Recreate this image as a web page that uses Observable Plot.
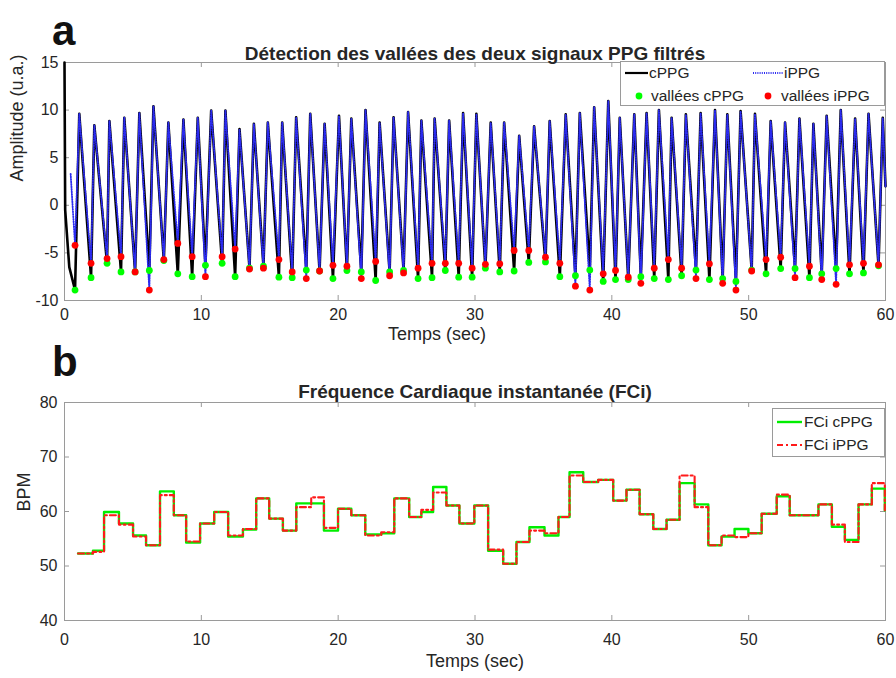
<!DOCTYPE html>
<html><head><meta charset="utf-8">
<script src="https://cdn.jsdelivr.net/npm/d3@7"></script>
<script src="https://cdn.jsdelivr.net/npm/@observablehq/plot@0.6"></script>
<style>
body{margin:0;background:#fff;}
#root{position:relative;width:896px;height:678px;overflow:hidden;font-family:"Liberation Sans",Arial,sans-serif;color:#262626;}
.big{font-weight:bold;font-size:42px;color:#111;line-height:1;}
</style></head><body><div id="root"></div>
<script>
// ---------- tick labels ----------
const xTicks = [0, 10, 20, 30, 40, 50, 60];
const yTicksA = [-10, -5, 0, 5, 10, 15];
const yTicksB = [40, 50, 60, 70, 80];

// ---------- panel a : PPG signals ----------
const cStartT = [0, 0.05, 0.35];
const cStartV = [15, -0.5, -6.5];
const iStartT = [0.45];
const iStartV = [3.3];
const valleyT = [0.77, 1.94, 3.11, 4.13, 5.16, 6.20, 7.26, 8.28, 9.33, 10.30, 11.52, 12.47, 13.52, 14.54,
  15.67, 16.64, 17.67, 18.64, 19.62, 20.64, 21.69, 22.74, 23.76, 24.78, 25.84, 26.86, 27.83, 28.81, 29.79,
  30.76, 31.81, 32.86, 33.93, 35.15, 36.20, 37.34, 38.39, 39.37, 40.27, 41.20, 42.12, 43.10, 44.13,
  45.10, 46.15, 47.13, 48.10, 49.07, 50.22, 51.27, 52.34, 53.39, 54.44, 55.34, 56.39, 57.37, 58.39, 59.49];
const valleyC = [-8.9, -7.6, -6.1, -7.0, -7.0, -6.85, -5.8, -7.2, -7.5, -6.3, -6.1, -7.5, -6.6, -6.4,
  -7.55, -7.6, -6.8, -6.9, -7.7, -6.85, -7.0, -7.9, -7.0, -6.85, -7.7, -7.6, -6.85, -7.55, -7.55,
  -6.6, -7.0, -6.9, -6.0, -5.95, -7.5, -7.4, -6.8, -8.0, -7.8, -7.8, -7.5, -7.7, -7.8,
  -7.4, -6.8, -7.8, -7.7, -8.0, -6.8, -7.2, -6.65, -6.65, -7.6, -7.2, -6.65, -7.2, -7.1, -6.35];
const valleyI = [-4.2, -6.1, -5.6, -5.4, -7.0, -8.9, -5.7, -4.0, -5.4, -7.5, -5.4, -4.6, -6.7, -6.6,
  -5.7, -7.0, -7.7, -6.9, -6.3, -6.4, -7.7, -5.9, -7.4, -7.1, -6.6, -6.1, -6.1, -6.1, -6.6,
  -6.2, -6.15, -4.75, -4.75, -5.45, -6.1, -8.5, -8.9, -7.2, -6.85, -7.55, -8.2, -6.6, -5.7,
  -6.6, -7.7, -6.15, -8.2, -8.9, -6.9, -5.7, -5.45, -7.6, -6.4, -7.8, -8.3, -6.25, -6.1, -6.25];
const peakT = [1.08, 2.18, 3.28, 4.37, 5.47, 6.50, 7.59, 8.69, 9.74, 10.72, 11.76, 12.79, 13.84, 14.86,
  15.91, 16.93, 17.96, 19.01, 20.06, 20.96, 22.00, 23.03, 24.05, 25.11, 26.08, 27.05, 28.11, 29.13,
  30.10, 31.15, 32.13, 33.23, 34.32, 35.46, 36.63, 37.66, 38.71, 39.74, 40.58, 41.64, 42.54, 43.44, 44.37,
  45.41, 46.49, 47.54, 48.44, 49.41, 50.46, 51.61, 52.66, 53.71, 54.73, 55.70, 56.73, 57.78, 58.76, 59.80];
const peakV = [9.6, 8.4, 8.85, 9.2, 9.7, 10.4, 8.7, 9.0, 9.2, 9.95, 9.95, 8.0, 8.55, 8.7,
  8.7, 9.25, 9.6, 8.55, 9.4, 9.1, 10.0, 8.7, 9.25, 9.8, 8.9, 9.1, 8.9, 9.7,
  9.6, 8.7, 8.7, 7.3, 8.3, 8.85, 9.55, 9.7, 10.3, 10.95, 9.2, 9.55, 9.7, 10.0, 9.2,
  9.55, 9.7, 10.0, 9.55, 9.9, 9.6, 8.85, 8.7, 9.1, 8.55, 9.4, 10.0, 9.1, 9.6, 9.2];
const endT = [60];
const endV = [2];

// ---------- panel b : instantaneous heart rate ----------
const stepT = [0.99, 2.08, 2.89, 3.98, 5.01, 5.96, 6.98, 7.99, 8.89, 9.91, 10.94, 11.96, 13.04, 14.01, 14.96,
  15.96, 16.94, 18.03, 18.96, 19.99, 20.96, 21.98, 23.15, 24.1, 25.19, 26.08, 26.94, 27.91, 28.86, 29.95,
  30.96, 32.06, 33.03, 33.98, 35.08, 36.1, 36.91, 37.91, 39.0, 40.1, 41.07, 42.03, 43.03, 44.0, 44.95,
  46.05, 47.05, 48.02, 48.97, 49.98, 50.95, 52.05, 53.0, 54.0, 55.1, 56.08, 57.03, 58.03, 59.0, 59.95];
const hrC = [52.3, 52.8, 59.9, 57.8, 55.6, 53.8, 63.7, 59.3, 54.3, 57.8, 59.9, 55.4, 56.7, 62.4, 58.7,
  56.5, 61.5, 61.5, 56.5, 60.5, 59.3, 55.8, 56.0, 62.4, 59.0, 59.9, 64.5, 61.1, 57.8, 61.1,
  52.8, 50.4, 54.4, 57.1, 55.6, 59.0, 67.2, 65.4, 65.8, 62.0, 64.0, 59.5, 56.8, 58.5, 65.2,
  61.3, 53.8, 55.4, 56.8, 56.0, 59.6, 62.8, 59.3, 59.3, 61.3, 57.2, 54.8, 61.3, 64.2, 60.2];
const hrI = [52.3, 52.6, 59.3, 57.6, 55.4, 53.8, 63.0, 59.3, 54.5, 57.8, 59.9, 55.6, 56.8, 62.4, 58.7,
  56.5, 60.8, 62.6, 57.0, 60.5, 59.3, 55.6, 56.2, 62.4, 59.0, 60.3, 63.5, 61.1, 57.8, 61.1,
  53.0, 50.4, 54.4, 56.5, 56.0, 59.0, 66.6, 65.4, 65.8, 62.0, 64.0, 59.5, 56.8, 58.5, 66.6,
  60.8, 53.8, 55.6, 55.3, 56.0, 59.6, 63.1, 59.3, 59.3, 61.3, 57.6, 54.4, 61.3, 65.2, 60.2];

// ---------- build tables ----------
function ppgSeries(sT, sV, vals) {
  const pts = sT.map((t, i) => ({t, v: sV[i]}));
  valleyT.forEach((t, i) => { pts.push({t, v: vals[i]}); pts.push({t: peakT[i], v: peakV[i]}); });
  endT.forEach((t, i) => pts.push({t, v: endV[i]}));
  return pts;
}
const cPPG = ppgSeries(cStartT, cStartV, valleyC);
const iPPG = ppgSeries(iStartT, iStartV, valleyI);
const valleys = valleyT.map((t, i) => ({t, c: valleyC[i], i: valleyI[i]}));
const hr = stepT.map((t, i) => ({t, c: hrC[i], i: hrI[i]}));

const FONT = '"Liberation Sans", Arial, sans-serif';
const FRAME = "#9a9a9a";
const TXT = "#262626";
const BLUE = "#2b2bf0";
const W = 896, ML = 64, MR = 11;
const PW = W - ML - MR;
const fmt = d => String(d);
const TICKFS = 16, LABFS = 18, TITFS = 19;

function boxTicks(yTicks, plotH) {
  return [
    Plot.tickX(xTicks, {x: d => d, stroke: FRAME, insetTop: plotH - 5}),
    Plot.tickX(xTicks, {x: d => d, stroke: FRAME, insetBottom: plotH - 5}),
    Plot.tickY(yTicks, {y: d => d, stroke: FRAME, insetRight: PW - 5}),
    Plot.tickY(yTicks, {y: d => d, stroke: FRAME, insetLeft: PW - 5}),
    Plot.frame({stroke: FRAME})
  ];
}

// ---------- panel a ----------
const HA = 340, MTA = 62, MBA = 40;
const chartA = Plot.plot({
  width: W, height: HA, marginLeft: ML, marginRight: MR, marginTop: MTA, marginBottom: MBA,
  style: {fontFamily: FONT, fontSize: TICKFS + "px", color: TXT, background: "transparent", overflow: "visible"},
  x: {domain: [0, 60]},
  y: {domain: [-10, 15]},
  marks: [
    ...boxTicks(yTicksA, HA - MTA - MBA),
    Plot.line(cPPG, {x: "t", y: "v", stroke: "#000", strokeWidth: 2.6}),
    Plot.line(iPPG, {x: "t", y: "v", stroke: BLUE, strokeWidth: 1.8, strokeDasharray: "1,1.5"}),
    Plot.dot(valleys, {x: "t", y: "c", fill: "#00ff00", r: 3.4}),
    Plot.dot(valleys, {x: "t", y: "i", fill: "#ff0000", r: 3.4}),
    Plot.axisX({ticks: xTicks, tickSize: 0, tickPadding: 8, tickFormat: fmt, label: null, fontSize: TICKFS}),
    Plot.axisY({ticks: yTicksA, tickSize: 0, tickPadding: 6, tickFormat: fmt, label: null, fontSize: TICKFS}),
    Plot.text(["Temps (sec)"], {text: d => d, frameAnchor: "bottom", dy: 39, dx: -38, fontSize: LABFS}),
    Plot.text(["Amplitude (u.a.)"], {text: d => d, frameAnchor: "left", dx: -47, rotate: -90, fontSize: LABFS}),
    Plot.text(["Détection des vallées des deux signaux PPG filtrés"], {text: d => d, frameAnchor: "top", dy: -16, fontSize: TITFS, fontWeight: "bold"})
  ]
});

// ---------- panel b ----------
const HB = 338, MTB = 62, MBB = 58;
const chartB = Plot.plot({
  width: W, height: HB, marginLeft: ML, marginRight: MR, marginTop: MTB, marginBottom: MBB,
  style: {fontFamily: FONT, fontSize: TICKFS + "px", color: TXT, background: "transparent", overflow: "visible"},
  x: {domain: [0, 60]},
  y: {domain: [40, 80]},
  marks: [
    ...boxTicks(yTicksB, HB - MTB - MBB),
    Plot.line(hr, {x: "t", y: "c", stroke: "#00ee00", strokeWidth: 2.4, curve: "step-after"}),
    Plot.line(hr, {x: "t", y: "i", stroke: "#ff1a1a", strokeWidth: 2.1, curve: "step-after", strokeDasharray: "6,3,2,3"}),
    Plot.axisX({ticks: xTicks, tickSize: 0, tickPadding: 13, tickFormat: fmt, label: null, fontSize: TICKFS}),
    Plot.axisY({ticks: yTicksB, tickSize: 0, tickPadding: 7, tickFormat: fmt, label: null, fontSize: TICKFS}),
    Plot.text(["Temps (sec)"], {text: d => d, frameAnchor: "bottom", dy: 46, fontSize: LABFS}),
    Plot.text(["BPM"], {text: d => d, frameAnchor: "left", dx: -40, rotate: -90, fontSize: LABFS}),
    Plot.text(["Fréquence Cardiaque instantanée (FCi)"], {text: d => d, frameAnchor: "top", dy: -18, fontSize: TITFS, fontWeight: "bold"})
  ]
});

const root = document.getElementById("root");
function place(el, left, top) { el.style.position = "absolute"; el.style.left = left + "px"; el.style.top = top + "px"; root.appendChild(el); return el; }
place(chartA, 0, 0);
place(chartB, 0, 340);

// panel letters
const la = document.createElement("div"); la.className = "big"; la.textContent = "a"; place(la, 52, 10);
const lb = document.createElement("div"); lb.className = "big"; lb.textContent = "b"; place(lb, 52, 341);

// ---------- legends (HTML overlay svg) ----------
function legend(left, top, w, h, items) {
  const svg = d3.create("svg").attr("width", w).attr("height", h)
    .style("font-family", FONT).style("font-size", "15.5px");
  svg.append("rect").attr("x", 0.5).attr("y", 0.5).attr("width", w - 1).attr("height", h - 1)
    .attr("fill", "#fff").attr("stroke", FRAME);
  for (const it of items) {
    if (it.kind === "line") {
      svg.append("line").attr("x1", it.x0).attr("x2", it.x1).attr("y1", it.y).attr("y2", it.y)
        .attr("stroke", it.color).attr("stroke-width", it.width).attr("stroke-dasharray", it.dash || null);
    } else {
      svg.append("circle").attr("cx", it.x0).attr("cy", it.y).attr("r", 3.4).attr("fill", it.color);
    }
    svg.append("text").attr("x", it.tx).attr("y", it.y).attr("dy", "0.35em").attr("fill", TXT).text(it.label);
  }
  place(svg.node(), left, top);
}
legend(620, 61, 265, 45, [
  {kind: "line", x0: 5, x1: 28, y: 12, color: "#000", width: 2.2, tx: 29, label: "cPPG"},
  {kind: "line", x0: 133, x1: 163, y: 12, color: BLUE, width: 2, dash: "1,1.2", tx: 164, label: "iPPG"},
  {kind: "dot", x0: 19, y: 35, color: "#00ff00", tx: 31, label: "vallées cPPG"},
  {kind: "dot", x0: 148, y: 35, color: "#ff0000", tx: 161, label: "vallées iPPG"}
]);
legend(772, 408, 113, 49, [
  {kind: "line", x0: 5, x1: 30, y: 14, color: "#00ee00", width: 2.4, tx: 32, label: "FCi cPPG"},
  {kind: "line", x0: 5, x1: 30, y: 37, color: "#ff1a1a", width: 2.1, dash: "6,3,2,3", tx: 32, label: "FCi iPPG"}
]);
</script></body></html>
